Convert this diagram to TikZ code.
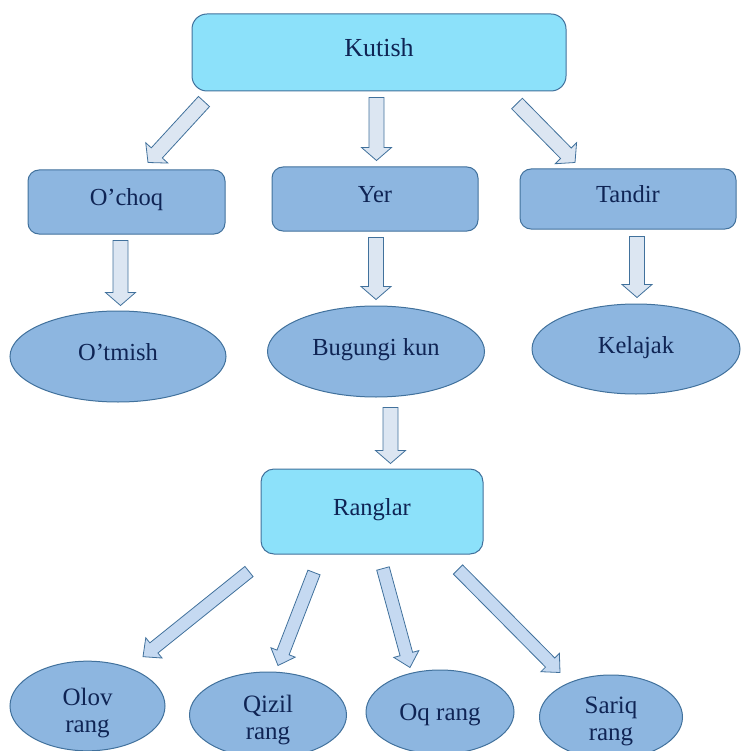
\documentclass[tikz,border=0pt]{standalone}
\usepackage{fontspec}
\setmainfont{Liberation Serif}
\usetikzlibrary{shapes.geometric,calc}
\definecolor{boxline}{RGB}{65,113,156}
\definecolor{cyanfill}{RGB}{140,225,250}
\definecolor{bluefill}{RGB}{141,182,224}
\definecolor{arrowfill}{RGB}{220,230,242}
\definecolor{arrowfilltwo}{RGB}{197,217,241}
\definecolor{txt}{RGB}{15,36,84}
\tikzset{
  basic/.style={
  draw=boxline,
  line width=1pt,
  fill=bluefill,
  text=txt,
  inner sep=0pt,
  font=\fontsize{24.5}{28}\selectfont,
  },
  box/.style={basic, rounded corners=11pt, text height=17pt, text depth=9pt},
  topbox/.style={box, fill=cyanfill, rounded corners=15pt},
  oval/.style={basic, ellipse, align=center, text height=17pt, text depth=9pt},
  smalloval/.style={basic, ellipse, align=center, font=\fontsize{25}{27}\selectfont},
  barrow/.style={draw=boxline, line width=0.8pt, fill=arrowfill, line join=miter},
}
% half shaft width, half head width, head length
\newcommand{\shafthw}{7.5pt}
\newcommand{\headhw}{15pt}
\newcommand{\headlen}{13pt}
% block arrow from #2 to the tip #3
\newcommand{\blockarrow}[3][]{%
  \coordinate (ba-s) at #2;
  \coordinate (ba-t) at #3;
  \coordinate (ba-c) at ($(ba-t)!\headlen!(ba-s)$);
  \draw[barrow,#1] ($(ba-s)!\shafthw!90:(ba-t)$) -- ($(ba-c)!\shafthw!90:(ba-t)$)
    -- ($(ba-c)!\headhw!90:(ba-t)$) -- (ba-t) -- ($(ba-c)!\headhw!-90:(ba-t)$)
    -- ($(ba-c)!\shafthw!-90:(ba-t)$) -- ($(ba-s)!\shafthw!-90:(ba-t)$) -- cycle;
}

\begin{document}
\begin{tikzpicture}[x=1pt,y=-1pt]
\useasboundingbox (0,0) rectangle (741,751);
\clip (0,0) rectangle (741,751);

% root
\node[topbox, minimum width=374pt, minimum height=77pt, font=\fontsize{26}{30}\selectfont] (root) at (379,52.5) {Kutish};

% The first level
\node[box, minimum width=197pt, minimum height=64pt] (c1) at (126.5,202) {O’choq};
\node[box, minimum width=206pt, minimum height=64pt] (c2) at (375,199) {Yer};
\node[box, minimum width=216pt, minimum height=60pt] (c3) at (628,199) {Tandir};

% times
\node[oval, minimum width=216pt, minimum height=91pt] (c11) at (118,356.5) {O’tmish};
\node[oval, minimum width=217pt, minimum height=91pt] (c21) at (376,351.5) {Bugungi kun};
\node[oval, minimum width=208pt, minimum height=90pt] (c31) at (636,349) {Kelajak};

% colours
\node[topbox, rounded corners=13pt, minimum width=222pt, minimum height=85pt] (col) at (372,511.5) {Ranglar};
\node[smalloval, minimum width=155pt, minimum height=84pt, text height=58pt] (col1) at (87.5,706) {Olov\\rang};
\node[smalloval, minimum width=157pt, minimum height=86pt, text height=54pt] (col2) at (268,715) {Qizil\\rang};
\node[smalloval, minimum width=148pt, minimum height=84pt, text height=23pt] (col3) at (440,712) {Oq rang};
\node[smalloval, minimum width=143pt, minimum height=84pt, text height=53pt] (col4) at (611,717) {Sariq\\rang};

% arrows from root to level 1
\blockarrow{($(root.south)+(-175,10)$)}{($(c1.north)+(21.5,-7)$)}
\blockarrow{($(root.south)+(-2.5,6)$)}{($(c2.north)+(1.5,-6)$)}
\blockarrow{($(root.south)+(138,12)$)}{($(c3.north)+(-53,-6)$)}

% arrows from level 1 to the times
\blockarrow{($(c1.south)+(-6,6)$)}{($(c11.north)+(2.5,-5)$)}
\blockarrow{($(c2.south)+(1,6)$)}{($(c21.north)+(0,-6)$)}
\blockarrow{($(c3.south)+(9,7)$)}{($(c31.north)+(1,-6)$)}
\blockarrow{($(c21.south)+(14.5,10)$)}{($(col.north)+(18.5,-5)$)}

% arrows to the colours
\begin{scope}
\renewcommand{\shafthw}{6.5pt}
\renewcommand{\headhw}{13pt}
\renewcommand{\headlen}{14pt}
\blockarrow[fill=arrowfilltwo]{($(col.south)+(-123,17)$)}{($(col1.north)+(55.5,-4)$)}
\blockarrow[fill=arrowfilltwo]{($(col.south)+(-58,18)$)}{($(col2.north)+(10,-6)$)}
\blockarrow[fill=arrowfilltwo]{($(col.south)+(11,14)$)}{($(col3.north)+(-30,-2)$)}
\blockarrow[fill=arrowfilltwo]{($(col.south)+(86,15)$)}{($(col4.north)+(-51,-2)$)}
\end{scope}

\end{tikzpicture}
\end{document}
